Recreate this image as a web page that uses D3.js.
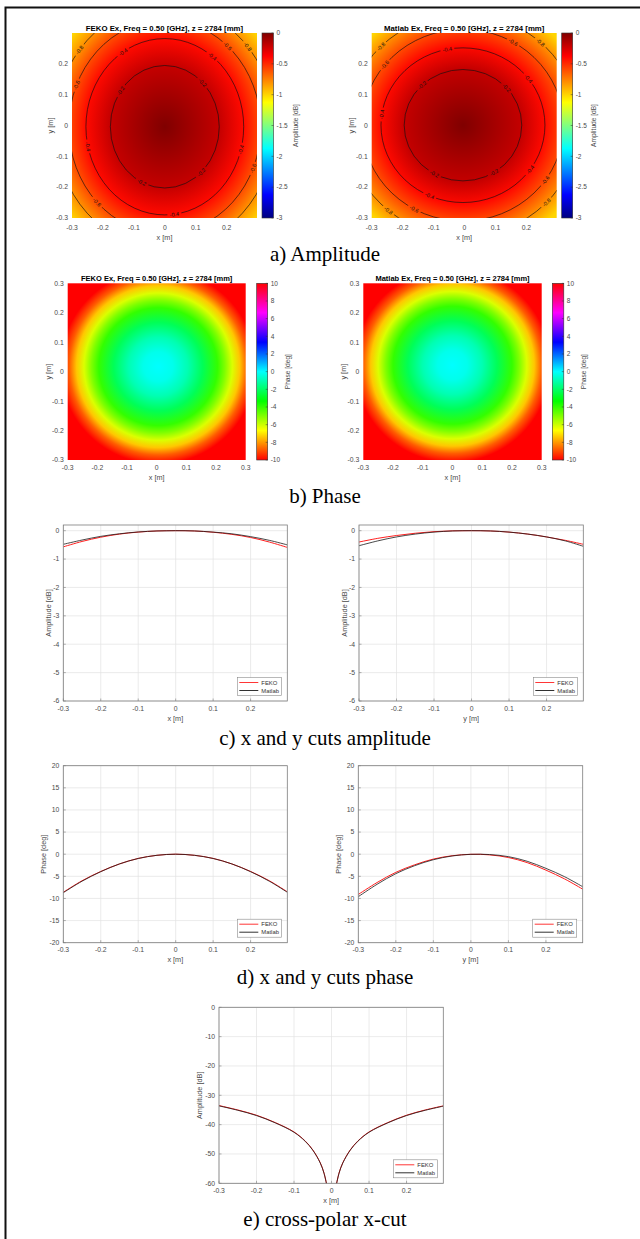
<!DOCTYPE html>
<html>
<head>
<meta charset="utf-8">
<script src="https://cdn.jsdelivr.net/npm/d3@7"></script>
<style>
body { margin: 0; background: #fff; }
text { font-family: "Liberation Sans", Arial, sans-serif; }
</style>
</head>
<body>
<script>
var w = 640;
var h = 1239;

// ---- data ----
var mapTitles = ['FEKO Ex, Freq = 0.50 [GHz], z = 2784 [mm]', 'Matlab Ex, Freq = 0.50 [GHz], z = 2784 [mm]'];
var captions = ['a) Amplitude', 'b) Phase', 'c) x and y cuts amplitude', 'd) x and y cuts phase', 'e) cross-polar x-cut'];
var axisTicks = [-0.3, -0.2, -0.1, 0, 0.1, 0.2, 0.3];
var ampBarTicks = [0, -0.5, -1, -1.5, -2, -2.5, -3];
var phaseBarTicks = [10, 8, 6, 4, 2, 0, -2, -4, -6, -8, -10];
var ampCutTicks = [-6, -5, -4, -3, -2, -1, 0];
var phaseCutTicks = [-20, -15, -10, -5, 0, 5, 10, 15, 20];
var xpolTicks = [-60, -50, -40, -30, -20, -10, 0];

// colormaps (jet and hsv knots)
var jetKnots = [-3, -2.625, -1.875, -1.125, -0.375, 0];
var jetColors = ['#000080', '#0000ff', '#00ffff', '#ffff00', '#ff0000', '#800000'];
var hsvKnots = [-10, -6.667, -3.333, 0, 3.333, 6.667, 10];
var hsvColors = ['#ff0000', '#ffff00', '#00ff00', '#00ffff', '#0000ff', '#ff00ff', '#ff0000'];

// amplitude maps: contour levels and their semi axes [m]
var ampLevels = [0, -0.2, -0.4, -0.6, -0.8, -1.0];
var fekoAmpRx = [0, 0.176, 0.255, 0.31, 0.355, 0.40];
var fekoAmpRy = [0, 0.198, 0.285, 0.345, 0.395, 0.445];
var fekoAmpCentre = [0, -0.005];
var matlabAmpRx = [0, 0.19, 0.265, 0.325, 0.375, 0.42];
var matlabAmpRy = [0, 0.18, 0.25, 0.31, 0.36, 0.405];
var matlabAmpCentre = [-0.005, 0];
// contour labels: [level, angle on the ellipse in degrees]
var fekoLabels = [[-0.8, 141], [-0.8, 41], [-0.6, 49], [-0.6, 157], [-0.4, 122], [-0.4, 53], [-0.2, 144], [-0.2, 46],
                  [-0.4, 193], [-0.4, -15], [-0.6, -23], [-0.2, 245], [-0.2, -48], [-0.6, 225], [-0.4, -83]];
var matlabLabels = [[-0.8, 135], [-0.6, 141], [-0.4, 101], [-0.6, 60], [-0.8, 48], [-0.2, 134], [-0.2, 42], [-0.4, 37],
                    [-0.4, 172], [-0.2, 241], [-0.2, -58], [-0.4, -35], [-0.6, -35], [-0.8, -44], [-0.4, 246],
                    [-0.6, 241], [-0.8, 230]];

// phase maps: radial profile
var phaseRadius = [0, 0.05, 0.1, 0.15, 0.2, 0.225, 0.25, 0.275, 0.3, 0.33];
var phaseProfile = [0, -0.25, -1, -2.2, -4, -5.0, -6.2, -7.4, -8.8, -10];
var fekoPhaseCentre = [0.005, 0.017];
var matlabPhaseCentre = [0, 0.022];

// cuts
var cutX = [-0.3, -0.25, -0.2, -0.15, -0.1, -0.05, 0, 0.05, 0.1, 0.15, 0.2, 0.25, 0.298];
var ampXCutFeko = [-0.57, -0.38, -0.23, -0.12, -0.05, -0.01, 0, -0.01, -0.055, -0.13, -0.24, -0.4, -0.59];
var ampXCutMatlab = [-0.48, -0.33, -0.2, -0.11, -0.045, -0.01, 0, -0.01, -0.05, -0.11, -0.21, -0.34, -0.5];
var ampYCutFeko = [-0.4, -0.27, -0.17, -0.09, -0.035, -0.005, 0, -0.01, -0.05, -0.12, -0.22, -0.34, -0.48];
var ampYCutMatlab = [-0.53, -0.36, -0.22, -0.12, -0.05, -0.01, 0, -0.01, -0.05, -0.12, -0.22, -0.36, -0.55];
var phaseXCutFeko = [-8.6, -6.0, -3.9, -2.2, -0.95, -0.25, 0, -0.25, -0.95, -2.2, -3.9, -6.0, -8.5];
var phaseXCutMatlab = [-8.7, -6.1, -3.95, -2.2, -0.97, -0.25, 0, -0.25, -0.97, -2.2, -3.95, -6.1, -8.6];
var phaseYCutFeko = [-9.1, -6.4, -4.1, -2.4, -1.1, -0.35, -0.02, -0.15, -0.75, -1.9, -3.6, -5.6, -7.9];
var phaseYCutMatlab = [-9.6, -6.8, -4.4, -2.6, -1.25, -0.4, -0.03, -0.08, -0.55, -1.6, -3.2, -5.1, -7.35];
var xpolX = [-0.3, -0.25, -0.2, -0.15, -0.1, -0.07, -0.05, -0.03, -0.02, -0.012, 0, 0.012, 0.02, 0.03, 0.05, 0.07, 0.1, 0.15, 0.2, 0.25, 0.298];
var xpolFeko = [-33.5, -35.0, -36.8, -39.3, -42.5, -45.6, -48.6, -53.0, -56.5, -61, null, -61, -56.5, -53.0, -48.6, -45.6, -42.5, -39.3, -36.8, -35.0, -33.6];
var xpolMatlab = [-33.6, -35.1, -36.9, -39.4, -42.6, -45.7, -48.7, -53.1, -56.6, -61, null, -61, -56.6, -53.1, -48.7, -45.7, -42.6, -39.4, -36.9, -35.1, -33.7];

var tickColor = '#4a4a4a';
var fekoColor = '#ff1f1f';
var matlabColor = '#1a1a1a';

var jet = d3.scaleLinear().domain(jetKnots).range(jetColors).clamp(true);
var hsv = d3.scaleLinear().domain(hsvKnots).range(hsvColors).clamp(true);

var svg = d3.select('body')
            .append('svg')
            .attr('width', w)
            .attr('height', h);

svg.append('rect')
   .attr('width', w)
   .attr('height', h)
   .attr('fill', 'white');

var defs = svg.append('defs');

function fmt(d) { return String(+d.toFixed(3)); }

function inDomain(ticks, dom) {
    return ticks.filter(function (d) { return d >= dom[0] - 1e-9 && d <= dom[1] + 1e-9; });
}

function axisText(g, o, x, y) {
    var xt = inDomain(axisTicks, o.xDomain);
    var yt = inDomain(o.yTicks || axisTicks, o.yDomain);
    g.selectAll('text.xt').data(xt).enter().append('text')
     .attr('x', function (d) { return x(d); })
     .attr('y', o.bottom + o.xTickGap)
     .attr('text-anchor', 'middle')
     .attr('font-size', 6.8)
     .attr('fill', tickColor)
     .text(fmt);
    g.selectAll('text.yt').data(yt).enter().append('text')
     .attr('x', o.left - 4)
     .attr('y', function (d) { return y(d) + 2.4; })
     .attr('text-anchor', 'end')
     .attr('font-size', 6.8)
     .attr('fill', tickColor)
     .text(fmt);
    g.append('text')
     .attr('x', (o.left + o.right) / 2)
     .attr('y', o.bottom + o.xTickGap + 10)
     .attr('text-anchor', 'middle')
     .attr('font-size', 7.3)
     .attr('fill', tickColor)
     .text(o.xLabel);
    g.append('text')
     .attr('transform', 'translate(' + o.yLabelX + ',' + ((o.top + o.bottom) / 2) + ') rotate(-90)')
     .attr('text-anchor', 'middle')
     .attr('dominant-baseline', 'central')
     .attr('font-size', 7.3)
     .attr('fill', tickColor)
     .text(o.yLabel);
}

function labelPos(o, x, y, d) {
    var i = ampLevels.indexOf(d[0]);
    var t = d[1] * Math.PI / 180;
    var rx = o.rx[i], ry = o.ry[i];
    var kx = x(1) - x(0), ky = y(0) - y(1);
    var a = Math.atan2(-ry * Math.cos(t) * ky, -rx * Math.sin(t) * kx) * 180 / Math.PI;
    if (a > 90) a -= 180;
    if (a < -90) a += 180;
    return {x: x(o.centre[0] + rx * Math.cos(t)), y: y(o.centre[1] + ry * Math.sin(t)), a: a};
}

function drawColorbar(o) {
    var g = svg.append('g');
    var dom = [o.knots[0], o.knots[o.knots.length - 1]];
    var grad = defs.append('linearGradient')
                   .attr('id', o.id + '-bar')
                   .attr('x1', 0).attr('y1', 1).attr('x2', 0).attr('y2', 0);
    grad.selectAll('stop').data(o.knots).enter().append('stop')
        .attr('offset', function (d) { return (d - dom[0]) / (dom[1] - dom[0]); })
        .attr('stop-color', function (d) { return o.scale(d); });
    var cy = d3.scaleLinear().domain(dom).range([o.bottom, o.top]);
    g.append('rect')
     .attr('x', o.left).attr('y', o.top)
     .attr('width', o.width).attr('height', o.bottom - o.top)
     .attr('fill', 'url(#' + o.id + '-bar)')
     .attr('stroke', '#333').attr('stroke-width', 0.6);
    g.selectAll('line.bt').data(o.ticks).enter().append('line')
     .attr('x1', o.left + o.width - 2).attr('x2', o.left + o.width)
     .attr('y1', cy).attr('y2', cy)
     .attr('stroke', '#333').attr('stroke-width', 0.5);
    g.selectAll('text.bt').data(o.ticks).enter().append('text')
     .attr('x', o.left + o.width + 3)
     .attr('y', function (d) { return cy(d) + 2.3; })
     .attr('font-size', 6.5)
     .attr('fill', tickColor)
     .text(fmt);
    g.append('text')
     .attr('transform', 'translate(' + o.labelX + ',' + ((o.top + o.bottom) / 2) + ') rotate(-90)')
     .attr('text-anchor', 'middle')
     .attr('dominant-baseline', 'central')
     .attr('font-size', 6.6)
     .attr('fill', tickColor)
     .text(o.label);
}

function drawMap(o) {
    var x = d3.scaleLinear().domain(o.xDomain).range([o.left, o.right]);
    var y = d3.scaleLinear().domain(o.yDomain).range([o.bottom, o.top]);
    var g = svg.append('g');

    defs.append('clipPath').attr('id', o.id + '-clip')
        .append('rect')
        .attr('x', o.left).attr('y', o.top)
        .attr('width', o.right - o.left).attr('height', o.bottom - o.top);

    // radial field, stops follow the read profile
    var last = o.rx.length - 1;
    var sx = x(o.rx[last]) - x(0), sy = y(0) - y(o.ry[last]);
    var grad = defs.append('radialGradient')
                   .attr('id', o.id + '-field')
                   .attr('gradientUnits', 'userSpaceOnUse')
                   .attr('cx', 0).attr('cy', 0).attr('r', 1)
                   .attr('gradientTransform', 'translate(' + x(o.centre[0]) + ',' + y(o.centre[1]) + ') scale(' + sx + ',' + sy + ')');
    grad.selectAll('stop').data(o.values).enter().append('stop')
        .attr('offset', function (d, i) { return o.rx[i] / o.rx[last]; })
        .attr('stop-color', function (d) { return o.scale(d); });

    g.append('rect')
     .attr('x', o.left).attr('y', o.top)
     .attr('width', o.right - o.left).attr('height', o.bottom - o.top)
     .attr('fill', 'url(#' + o.id + '-field)');

    if (o.labels) {
        var pos = o.labels.map(function (d) { return labelPos(o, x, y, d); });
        var mask = defs.append('mask').attr('id', o.id + '-mask')
                       .attr('maskUnits', 'userSpaceOnUse')
                       .attr('x', 0).attr('y', 0).attr('width', w).attr('height', h);
        mask.append('rect').attr('width', w).attr('height', h).attr('fill', 'white');
        mask.selectAll('rect.hole').data(pos).enter().append('rect')
            .attr('x', -7).attr('y', -3).attr('width', 14).attr('height', 6)
            .attr('fill', 'black')
            .attr('transform', function (p) { return 'translate(' + p.x + ',' + p.y + ') rotate(' + p.a + ')'; });

        var cg = g.append('g').attr('clip-path', 'url(#' + o.id + '-clip)');
        var lines = cg.append('g').attr('mask', 'url(#' + o.id + '-mask)');
        var levels = [1, 2, 3, 4];
        lines.selectAll('ellipse').data(levels).enter().append('ellipse')
             .attr('cx', x(o.centre[0])).attr('cy', y(o.centre[1]))
             .attr('rx', function (i) { return x(o.rx[i]) - x(0); })
             .attr('ry', function (i) { return y(0) - y(o.ry[i]); })
             .attr('fill', 'none')
             .attr('stroke', '#111')
             .attr('stroke-width', 0.65);
        cg.selectAll('text').data(o.labels).enter().append('text')
          .attr('transform', function (d, i) { return 'translate(' + pos[i].x + ',' + pos[i].y + ') rotate(' + pos[i].a + ')'; })
          .attr('text-anchor', 'middle')
          .attr('dominant-baseline', 'central')
          .attr('font-size', 5.5)
          .attr('fill', '#111')
          .text(function (d) { return fmt(d[0]); });
    }

    g.append('text')
     .attr('x', (o.left + o.right) / 2)
     .attr('y', o.top - 2.5)
     .attr('text-anchor', 'middle')
     .attr('font-size', o.titleSize)
     .attr('font-weight', 'bold')
     .attr('fill', '#000')
     .text(o.title);

    axisText(g, o, x, y);
    drawColorbar(o.bar);
}

function drawCut(o) {
    var x = d3.scaleLinear().domain(o.xDomain).range([o.left, o.right]);
    var y = d3.scaleLinear().domain(o.yDomain).range([o.bottom, o.top]);
    var g = svg.append('g');
    var xt = inDomain(axisTicks, o.xDomain);
    var yt = inDomain(o.yTicks, o.yDomain);

    g.append('rect')
     .attr('x', o.left).attr('y', o.top)
     .attr('width', o.right - o.left).attr('height', o.bottom - o.top)
     .attr('fill', 'white');
    g.selectAll('line.gx').data(xt).enter().append('line')
     .attr('x1', x).attr('x2', x).attr('y1', o.top).attr('y2', o.bottom)
     .attr('stroke', '#e2e2e2').attr('stroke-width', 0.7);
    g.selectAll('line.gy').data(yt).enter().append('line')
     .attr('y1', y).attr('y2', y).attr('x1', o.left).attr('x2', o.right)
     .attr('stroke', '#e2e2e2').attr('stroke-width', 0.7);

    defs.append('clipPath').attr('id', o.id + '-clip')
        .append('rect')
        .attr('x', o.left).attr('y', o.top)
        .attr('width', o.right - o.left).attr('height', o.bottom - o.top);

    var line = d3.line()
                 .defined(function (d) { return d[1] !== null; })
                 .x(function (d) { return x(d[0]); })
                 .y(function (d) { return y(d[1]); })
                 .curve(d3.curveCatmullRom.alpha(0.5));
    var lg = g.append('g').attr('clip-path', 'url(#' + o.id + '-clip)');
    o.series.forEach(function (s) {
        lg.append('path')
          .datum(d3.zip(s.x, s.y))
          .attr('d', line)
          .attr('fill', 'none')
          .attr('stroke', s.color)
          .attr('stroke-width', s.width);
    });

    // box and inward ticks
    g.append('rect')
     .attr('x', o.left).attr('y', o.top)
     .attr('width', o.right - o.left).attr('height', o.bottom - o.top)
     .attr('fill', 'none').attr('stroke', '#7d7d7d').attr('stroke-width', 0.8);
    g.selectAll('line.tx').data(xt).enter().append('line')
     .attr('x1', x).attr('x2', x).attr('y1', o.bottom).attr('y2', o.bottom - 2.5)
     .attr('stroke', '#7d7d7d').attr('stroke-width', 0.6);
    g.selectAll('line.ty').data(yt).enter().append('line')
     .attr('y1', y).attr('y2', y).attr('x1', o.left).attr('x2', o.left + 2.5)
     .attr('stroke', '#7d7d7d').attr('stroke-width', 0.6);

    // legend
    var lw = 44, lh = 18;
    var lx = o.right - 6 - lw, ly = o.bottom - 5.5 - lh;
    var leg = g.append('g').attr('transform', 'translate(' + lx + ',' + ly + ')');
    leg.append('rect').attr('width', lw).attr('height', lh)
       .attr('fill', 'white').attr('stroke', '#8a8a8a').attr('stroke-width', 0.6);
    leg.selectAll('g.item').data(o.series).enter().append('g')
       .attr('transform', function (d, i) { return 'translate(0,' + (5 + i * 8) + ')'; })
       .each(function (d) {
           var it = d3.select(this);
           it.append('line').attr('x1', 2).attr('x2', 21).attr('y1', 0).attr('y2', 0)
             .attr('stroke', d.color).attr('stroke-width', 0.9);
           it.append('text').attr('x', 24).attr('y', 2.1)
             .attr('font-size', 5.9).attr('fill', '#333').text(d.name);
       });

    axisText(g, o, x, y);
}

// ---- amplitude maps ----
drawMap({id: 'ampF', title: mapTitles[0], titleSize: 7.8, left: 72, right: 257, top: 33, bottom: 218,
         xDomain: [-0.3, 0.298], yDomain: [-0.3, 0.298], xTickGap: 11.5, xLabel: 'x [m]', yLabel: 'y [m]', yLabelX: 50,
         values: ampLevels, rx: fekoAmpRx, ry: fekoAmpRy, centre: fekoAmpCentre, scale: jet, labels: fekoLabels,
         bar: {id: 'ampFb', left: 262, width: 11.5, top: 33, bottom: 218, knots: jetKnots, scale: jet,
               ticks: ampBarTicks, label: 'Amplitude [dB]', labelX: 295}});
drawMap({id: 'ampM', title: mapTitles[1], titleSize: 7.8, left: 371.7, right: 556.7, top: 33, bottom: 218,
         xDomain: [-0.3, 0.298], yDomain: [-0.3, 0.298], xTickGap: 11.5, xLabel: 'x [m]', yLabel: 'y [m]', yLabelX: 351,
         values: ampLevels, rx: matlabAmpRx, ry: matlabAmpRy, centre: matlabAmpCentre, scale: jet, labels: matlabLabels,
         bar: {id: 'ampMb', left: 561.7, width: 11, top: 33, bottom: 218, knots: jetKnots, scale: jet,
               ticks: ampBarTicks, label: 'Amplitude [dB]', labelX: 593}});

// ---- phase maps ----
drawMap({id: 'phF', title: mapTitles[0], titleSize: 7.5, left: 67.7, right: 245.7, top: 283.3, bottom: 460,
         xDomain: [-0.3, 0.3], yDomain: [-0.3, 0.3], xTickGap: 9.5, xLabel: 'x [m]', yLabel: 'y [m]', yLabelX: 48,
         values: phaseProfile, rx: phaseRadius, ry: phaseRadius, centre: fekoPhaseCentre, scale: hsv,
         bar: {id: 'phFb', left: 256.7, width: 11, top: 283.3, bottom: 460, knots: hsvKnots, scale: hsv,
               ticks: phaseBarTicks, label: 'Phase [deg]', labelX: 287}});
drawMap({id: 'phM', title: mapTitles[1], titleSize: 7.5, left: 363.3, right: 541.7, top: 283.3, bottom: 460,
         xDomain: [-0.3, 0.3], yDomain: [-0.3, 0.3], xTickGap: 9.5, xLabel: 'x [m]', yLabel: 'y [m]', yLabelX: 343,
         values: phaseProfile, rx: phaseRadius, ry: phaseRadius, centre: matlabPhaseCentre, scale: hsv,
         bar: {id: 'phMb', left: 552.3, width: 11.5, top: 283.3, bottom: 460, knots: hsvKnots, scale: hsv,
               ticks: phaseBarTicks, label: 'Phase [deg]', labelX: 583}});

// ---- cuts ----
drawCut({id: 'cA', left: 63.3, right: 287.3, top: 525, bottom: 701, xDomain: [-0.3, 0.298], yDomain: [-6, 0.2],
         yTicks: ampCutTicks, xTickGap: 9.5, xLabel: 'x [m]', yLabel: 'Amplitude [dB]', yLabelX: 48,
         series: [{name: 'FEKO', x: cutX, y: ampXCutFeko, color: fekoColor, width: 1},
                  {name: 'Matlab', x: cutX, y: ampXCutMatlab, color: matlabColor, width: 0.8}]});
drawCut({id: 'cB', left: 359, right: 583.3, top: 525, bottom: 701, xDomain: [-0.3, 0.298], yDomain: [-6, 0.2],
         yTicks: ampCutTicks, xTickGap: 9.5, xLabel: 'y [m]', yLabel: 'Amplitude [dB]', yLabelX: 344,
         series: [{name: 'FEKO', x: cutX, y: ampYCutFeko, color: fekoColor, width: 1},
                  {name: 'Matlab', x: cutX, y: ampYCutMatlab, color: matlabColor, width: 0.8}]});
drawCut({id: 'dA', left: 63.3, right: 287.3, top: 765.7, bottom: 942.7, xDomain: [-0.3, 0.298], yDomain: [-20, 20],
         yTicks: phaseCutTicks, xTickGap: 9.5, xLabel: 'x [m]', yLabel: 'Phase [deg]', yLabelX: 43,
         series: [{name: 'FEKO', x: cutX, y: phaseXCutFeko, color: fekoColor, width: 1},
                  {name: 'Matlab', x: cutX, y: phaseXCutMatlab, color: matlabColor, width: 0.8}]});
drawCut({id: 'dB', left: 358.3, right: 582.7, top: 765.7, bottom: 942.7, xDomain: [-0.3, 0.298], yDomain: [-20, 20],
         yTicks: phaseCutTicks, xTickGap: 9.5, xLabel: 'y [m]', yLabel: 'Phase [deg]', yLabelX: 338,
         series: [{name: 'FEKO', x: cutX, y: phaseYCutFeko, color: fekoColor, width: 1},
                  {name: 'Matlab', x: cutX, y: phaseYCutMatlab, color: matlabColor, width: 0.8}]});
drawCut({id: 'e', left: 219, right: 443.3, top: 1007.3, bottom: 1183.3, xDomain: [-0.3, 0.298], yDomain: [-60, 0],
         yTicks: xpolTicks, xTickGap: 10, xLabel: 'x [m]', yLabel: 'Amplitude [dB]', yLabelX: 199,
         series: [{name: 'FEKO', x: xpolX, y: xpolFeko, color: fekoColor, width: 1},
                  {name: 'Matlab', x: xpolX, y: xpolMatlab, color: matlabColor, width: 0.8}]});

// ---- captions ----
var captionY = [261, 503, 745, 984, 1226];
svg.selectAll('text.caption').data(captions).enter().append('text')
   .attr('class', 'caption')
   .attr('x', 325)
   .attr('y', function (d, i) { return captionY[i]; })
   .attr('text-anchor', 'middle')
   .attr('font-size', 21)
   .style('font-family', '"Liberation Serif", "Times New Roman", serif')
   .attr('fill', '#000')
   .text(function (d) { return d; });

// page frame (top and left edges)
svg.append('path')
   .attr('d', 'M5.5,' + h + 'V7.5H' + w)
   .attr('fill', 'none')
   .attr('stroke', '#111')
   .attr('stroke-width', 2);
</script>
</body>
</html>
